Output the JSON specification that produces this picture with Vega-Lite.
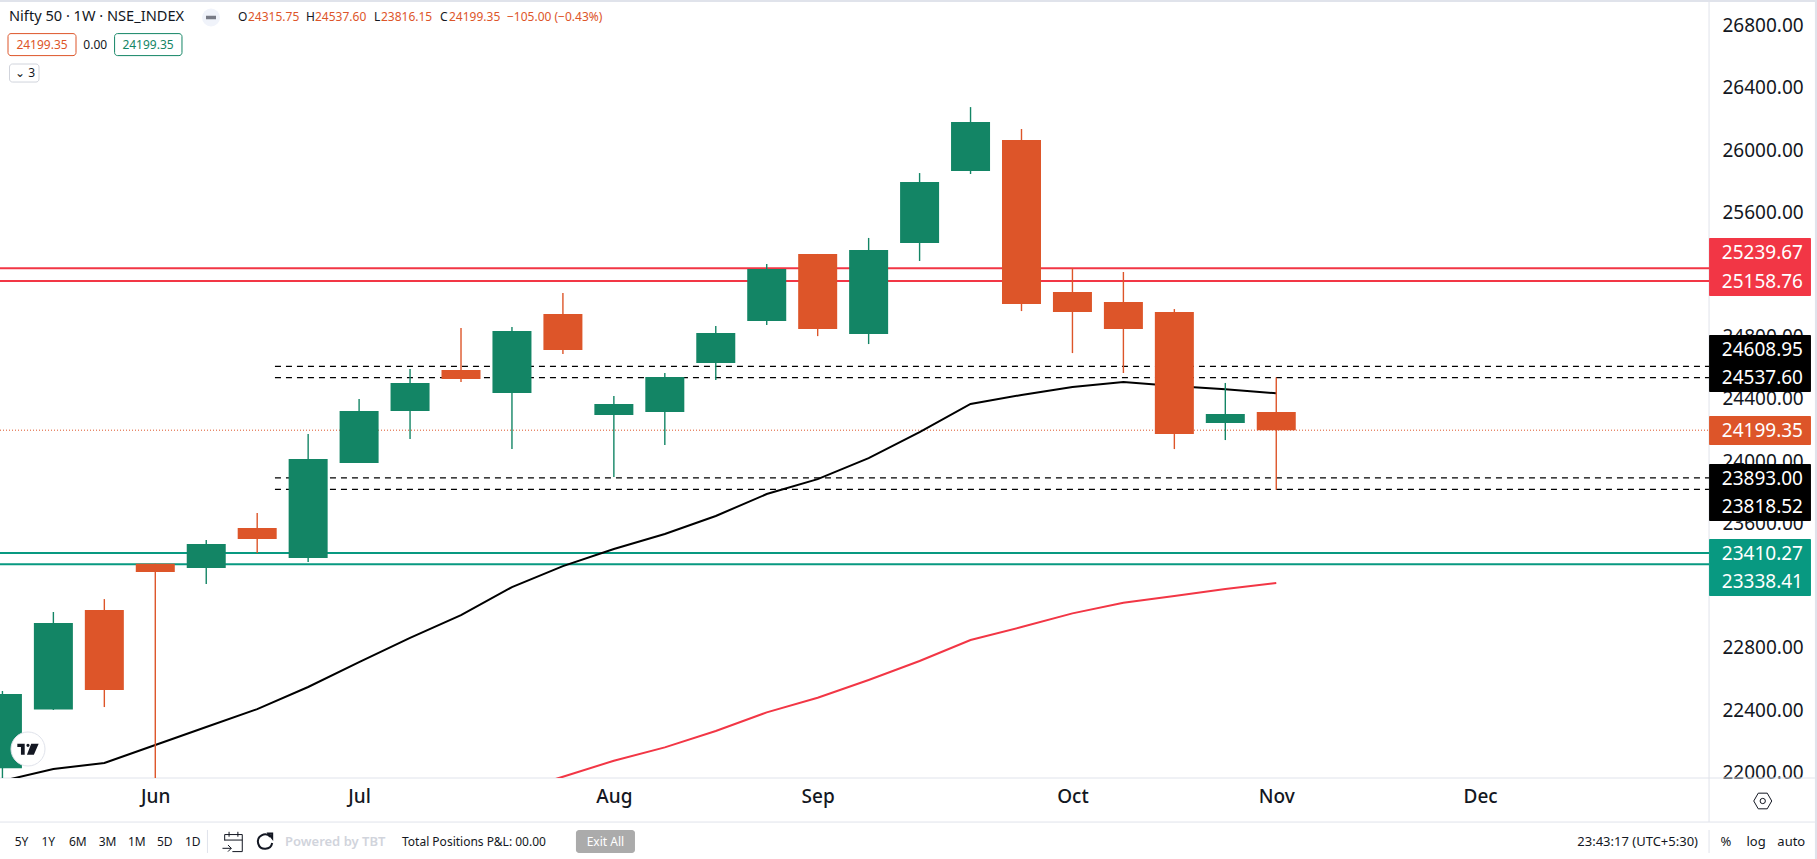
{"$schema":"https://vega.github.io/schema/vega-lite/v6.json","width":1709,"height":776,"autosize":"none","padding":{"left":0,"top":2,"right":108,"bottom":81},"background":"#ffffff","config":{"view":{"stroke":null},"font":"Noto Sans","text":{"font":"Noto Sans"}},
"datasets":{"candles":[
{"at":"2024-05-13","open":22027,"high":22523,"low":21821,"close":22504,"ma20":21945,"dir":"up"},
{"at":"2024-05-20","open":22404,"high":23031,"low":22401,"close":22960,"ma20":22022,"dir":"up"},
{"at":"2024-05-27","open":23044,"high":23114,"low":22420,"close":22530,"ma20":22060,"dir":"down"},
{"at":"2024-06-03","open":23341,"high":23341,"low":21281,"close":23288,"ma20":22176,"dir":"down"},
{"at":"2024-06-10","open":23314,"high":23494,"low":23211,"close":23468,"ma20":22292,"dir":"up"},
{"at":"2024-06-17","open":23571,"high":23667,"low":23410,"close":23500,"ma20":22407,"dir":"down"},
{"at":"2024-06-24","open":23378,"high":24175,"low":23352,"close":24014,"ma20":22549,"dir":"up"},
{"at":"2024-07-01","open":23989,"high":24400,"low":23989,"close":24323,"ma20":22709,"dir":"up"},
{"at":"2024-07-08","open":24323,"high":24592,"low":24143,"close":24503,"ma20":22864,"dir":"up"},
{"at":"2024-07-15","open":24586,"high":24856,"low":24509,"close":24528,"ma20":23011,"dir":"down"},
{"at":"2024-07-22","open":24438,"high":24863,"low":24078,"close":24837,"ma20":23191,"ma50":21874,"dir":"up"},
{"at":"2024-07-29","open":24946,"high":25081,"low":24689,"close":24715,"ma20":23326,"ma50":21972,"dir":"down"},
{"at":"2024-08-05","open":24297,"high":24419,"low":23898,"close":24368,"ma20":23436,"ma50":22075,"dir":"up"},
{"at":"2024-08-12","open":24316,"high":24567,"low":24104,"close":24541,"ma20":23532,"ma50":22161,"dir":"up"},
{"at":"2024-08-19","open":24631,"high":24869,"low":24522,"close":24824,"ma20":23648,"ma50":22266,"dir":"up"},
{"at":"2024-08-26","open":24901,"high":25268,"low":24875,"close":25235,"ma20":23789,"ma50":22386,"dir":"up"},
{"at":"2024-09-02","open":25332,"high":25332,"low":24804,"close":24850,"ma20":23885,"ma50":22480,"dir":"down"},
{"at":"2024-09-09","open":24818,"high":25435,"low":24753,"close":25358,"ma20":24020,"ma50":22594,"dir":"up"},
{"at":"2024-09-16","open":25403,"high":25852,"low":25287,"close":25794,"ma20":24187,"ma50":22716,"dir":"up"},
{"at":"2024-09-23","open":25865,"high":26276,"low":25846,"close":26180,"ma20":24368,"ma50":22851,"dir":"up"},
{"at":"2024-09-30","open":26064,"high":26135,"low":24965,"close":25010,"ma20":24426,"ma50":22934,"dir":"down"},
{"at":"2024-10-07","open":25088,"high":25242,"low":24695,"close":24959,"ma20":24477,"ma50":23022,"dir":"down"},
{"at":"2024-10-14","open":25023,"high":25216,"low":24567,"close":24850,"ma20":24509,"ma50":23090,"dir":"down"},
{"at":"2024-10-21","open":24959,"high":24978,"low":24078,"close":24175,"ma20":24483,"ma50":23133,"dir":"down"},
{"at":"2024-10-28","open":24246,"high":24503,"low":24136,"close":24304,"ma20":24462,"ma50":23178,"dir":"up"},
{"at":"2024-11-04","open":24315.75,"high":24537.6,"low":23816.15,"close":24199.35,"ma20":24437,"ma50":23217,"dir":"down"}
]},
"encoding":{
"x":{"field":"at","type":"temporal","title":null,"scale":{"type":"utc","nice":false,"padding":0,"domain":[{"year":2024,"month":5,"date":12,"hours":16,"utc":true},{"year":2025,"month":1,"date":2,"hours":10,"minutes":48,"utc":true}]},"axis":{"orient":"bottom","title":null,"format":"%b","ticks":false,"domain":false,"grid":false,"labelFont":"Noto Sans","labelFontSize":19,"labelFontWeight":500,"labelColor":"#131722","labelPadding":9,"labelOverlap":false,"labelFlush":false,"values":[{"year":2024,"month":6,"date":3,"utc":true},{"year":2024,"month":7,"date":1,"utc":true},{"year":2024,"month":8,"date":5,"utc":true},{"year":2024,"month":9,"date":2,"utc":true},{"year":2024,"month":10,"date":7,"utc":true},{"year":2024,"month":11,"date":4,"utc":true},{"year":2024,"month":12,"date":2,"utc":true}]}},
"y":{"field":"level","type":"quantitative","title":null,"scale":{"domain":[21964,26951.4],"nice":false,"zero":false},"axis":{"orient":"right","title":null,"format":".2f","ticks":false,"domain":false,"grid":false,"labelFont":"Noto Sans","labelFontSize":19,"labelColor":"#131722","labelPadding":13,"labelOverlap":false,"labelFlush":false,"values":[22000,22400,22800,23200,23600,24000,24400,24800,25200,25600,26000,26400,26800]}}},
"layer":[
{"data":{"values":[{"at":"2024-05-12T16:00:00Z","until":"2025-01-17T07:00:00Z","level":26964,"to":26951.4},{"at":"2025-01-17T00:00:00Z","until":"2025-01-17T07:00:00Z","level":26964,"to":21443}]},"mark":{"type":"rect","fill":"#E0E3EB"},"encoding":{"x2":{"field":"until"},"y2":{"field":"to"}}},
{"data":{"values":[{"at":"2024-05-12T16:00:00Z","until":"2025-01-17T00:00:00Z","level":21964},{"at":"2024-05-12T16:00:00Z","until":"2025-01-17T00:00:00Z","level":21681}]},"mark":{"type":"rule","stroke":"#E0E3EB","strokeWidth":1,"clip":false},"encoding":{"x2":{"field":"until"}}},
{"data":{"values":[{"at":"2025-01-02T11:00:00Z","level":26951.4,"to":21681},{"at":"2025-01-02T11:00:00Z","level":21630,"to":21482},{"at":"2024-06-10T04:00:00Z","level":21630,"to":21482}]},"mark":{"type":"rule","stroke":"#E0E3EB","strokeWidth":1,"clip":false},"encoding":{"y2":{"field":"to"}}},
{"data":{"values":[{"at":"2024-05-12T16:00:00Z","until":"2025-01-02T10:48:00Z","level":25239.67},{"at":"2024-05-12T16:00:00Z","until":"2025-01-02T10:48:00Z","level":25158.76}]},"mark":{"type":"rule","stroke":"#F23645","strokeWidth":2},"encoding":{"x2":{"field":"until"}}},
{"data":{"values":[{"at":"2024-05-12T16:00:00Z","until":"2025-01-02T10:48:00Z","level":23410.27},{"at":"2024-05-12T16:00:00Z","until":"2025-01-02T10:48:00Z","level":23338.41}]},"mark":{"type":"rule","stroke":"#089981","strokeWidth":2},"encoding":{"x2":{"field":"until"}}},
{"data":{"values":[{"at":"2024-06-19T10:34:00Z","until":"2025-01-02T10:48:00Z","level":24608.95},{"at":"2024-06-19T10:34:00Z","until":"2025-01-02T10:48:00Z","level":24537.6},{"at":"2024-06-19T10:34:00Z","until":"2025-01-02T10:48:00Z","level":23893},{"at":"2024-06-19T10:34:00Z","until":"2025-01-02T10:48:00Z","level":23818.52}]},"mark":{"type":"rule","stroke":"#000000","strokeWidth":1.2,"strokeDash":[6,5]},"encoding":{"x2":{"field":"until"}}},
{"data":{"values":[{"at":"2024-05-12T16:00:00Z","until":"2025-01-02T10:48:00Z","level":24199.35}]},"mark":{"type":"rule","stroke":"#DD5529","strokeWidth":1,"strokeDash":[1,2]},"encoding":{"x2":{"field":"until"}}},
{"data":{"name":"candles"},"mark":{"type":"line","stroke":"#000000","strokeWidth":2,"clip":true},"encoding":{"y":{"field":"ma20","type":"quantitative","title":null}}},
{"data":{"name":"candles"},"mark":{"type":"line","stroke":"#F23645","strokeWidth":2,"clip":true},"encoding":{"y":{"field":"ma50","type":"quantitative","title":null}}},
{"data":{"name":"candles"},"mark":{"type":"rule","strokeWidth":1.4,"clip":true},"encoding":{"y":{"field":"low","type":"quantitative","title":null},"y2":{"field":"high"},"color":{"field":"dir","type":"nominal","legend":null,"scale":{"domain":["up","down"],"range":["#138565","#DD5529"]}}}},
{"data":{"name":"candles"},"mark":{"type":"bar","width":39,"clip":true},"encoding":{"y":{"field":"open","type":"quantitative","title":null},"y2":{"field":"close"},"color":{"field":"dir","type":"nominal","legend":null,"scale":{"domain":["up","down"],"range":["#138565","#DD5529"]}}}},
{"data":{"values":[{"at":"2025-01-02T11:00:00Z","until":"2025-01-16T11:00:00Z","level":25434.6,"to":25061.8,"kind":"res"},{"at":"2025-01-02T11:00:00Z","until":"2025-01-16T11:00:00Z","level":24811.2,"to":24444.9,"kind":"mark"},{"at":"2025-01-02T11:00:00Z","until":"2025-01-16T11:00:00Z","level":24290.6,"to":24104.2,"kind":"last"},{"at":"2025-01-02T11:00:00Z","until":"2025-01-16T11:00:00Z","level":23982.1,"to":23615.8,"kind":"mark"},{"at":"2025-01-02T11:00:00Z","until":"2025-01-16T11:00:00Z","level":23500.1,"to":23133.8,"kind":"sup"}]},"mark":{"type":"rect","cornerRadius":1,"clip":false},"encoding":{"x2":{"field":"until"},"y2":{"field":"to"},"fill":{"field":"kind","type":"nominal","legend":null,"scale":{"domain":["res","mark","last","sup"],"range":["#F23645","#000000","#DD5529","#089981"]}}}},
{"data":{"values":[{"label":"25239.67","at":"2025-01-04T05:00:00Z","level":25338.2},{"label":"25158.76","at":"2025-01-04T05:00:00Z","level":25151.8},{"label":"24608.95","at":"2025-01-04T05:00:00Z","level":24714.8},{"label":"24537.60","at":"2025-01-04T05:00:00Z","level":24534.8},{"label":"24199.35","at":"2025-01-04T05:00:00Z","level":24194.2},{"label":"23893.00","at":"2025-01-04T05:00:00Z","level":23885.7},{"label":"23818.52","at":"2025-01-04T05:00:00Z","level":23705.8},{"label":"23410.27","at":"2025-01-04T05:00:00Z","level":23403.7},{"label":"23338.41","at":"2025-01-04T05:00:00Z","level":23223.7}]},"mark":{"type":"text","align":"left","baseline":"middle","fontSize":19,"fill":"#ffffff","font":"Noto Sans"},"encoding":{"text":{"field":"label"}}},
{"data":{"values":[{"label":"Nifty 50 · 1W · NSE_INDEX","at":"2024-05-13T21:42:00Z","level":26851.8}]},"mark":{"type":"text","align":"left","baseline":"middle","fontSize":14.6,"fill":"#131722"},"encoding":{"text":{"field":"label"}}},
{"data":{"values":[{"label":"O","at":"2024-06-14T08:40:00Z","level":26851.8},{"label":"H","at":"2024-06-23T16:54:00Z","level":26851.8},{"label":"L","at":"2024-07-03T01:00:00Z","level":26851.8},{"label":"C","at":"2024-07-12T02:42:00Z","level":26851.8},{"label":"5Y","at":"2024-05-14T16:30:00Z","level":21554.6},{"label":"1Y","at":"2024-05-18T08:48:00Z","level":21554.6},{"label":"6M","at":"2024-05-22T03:30:00Z","level":21554.6},{"label":"3M","at":"2024-05-26T05:24:00Z","level":21554.6},{"label":"1M","at":"2024-05-30T06:00:00Z","level":21554.6},{"label":"5D","at":"2024-06-03T05:36:00Z","level":21554.6},{"label":"1D","at":"2024-06-07T02:00:00Z","level":21554.6},{"label":"Total Positions P&L: 00.00","at":"2024-07-06T21:24:00Z","level":21554.6}]},"mark":{"type":"text","align":"left","baseline":"middle","fontSize":12,"fill":"#131722"},"encoding":{"text":{"field":"label"}}},
{"data":{"values":[{"label":"24315.75","at":"2024-06-15T17:40:00Z","level":26851.8},{"label":"24537.60","at":"2024-06-24T22:36:00Z","level":26851.8},{"label":"23816.15","at":"2024-07-04T00:00:00Z","level":26851.8},{"label":"24199.35","at":"2024-07-13T08:24:00Z","level":26851.8},{"label":"−105.00 (−0.43%)","at":"2024-07-21T07:36:00Z","level":26851.8}]},"mark":{"type":"text","align":"left","baseline":"middle","fontSize":12,"fill":"#DD5529"},"encoding":{"text":{"field":"label"}}},
{"data":{"values":[{"at":"2024-05-13T18:24:00Z","until":"2024-05-23T02:36:00Z","level":26748.3,"to":26606.9}]},"mark":{"type":"rect","fill":"#ffffff","stroke":"#DD5529","strokeWidth":1,"cornerRadius":3},"encoding":{"x2":{"field":"until"},"y2":{"field":"to"}}},
{"data":{"values":[{"at":"2024-05-28T09:48:00Z","until":"2024-06-06T16:00:00Z","level":26748.3,"to":26606.9}]},"mark":{"type":"rect","fill":"#ffffff","stroke":"#138565","strokeWidth":1,"cornerRadius":3},"encoding":{"x2":{"field":"until"},"y2":{"field":"to"}}},
{"data":{"values":[{"at":"2024-05-13T23:18:00Z","until":"2024-05-18T00:36:00Z","level":26552.9,"to":26437}]},"mark":{"type":"rect","fill":"#ffffff","stroke":"#D1D4DC","strokeWidth":1,"cornerRadius":3},"encoding":{"x2":{"field":"until"},"y2":{"field":"to"}}},
{"data":{"values":[{"label":"24199.35","at":"2024-05-18T10:30:00Z","level":26677}]},"mark":{"type":"text","align":"center","baseline":"middle","fontSize":12,"fill":"#DD5529"},"encoding":{"text":{"field":"label"}}},
{"data":{"values":[{"label":"0.00","at":"2024-05-25T18:00:00Z","level":26677},{"label":"⌄ 3","at":"2024-05-16T02:24:00Z","level":26495}]},"mark":{"type":"text","align":"center","baseline":"middle","fontSize":12,"fill":"#131722"},"encoding":{"text":{"field":"label"}}},
{"data":{"values":[{"label":"24199.35","at":"2024-06-02T00:00:00Z","level":26677}]},"mark":{"type":"text","align":"center","baseline":"middle","fontSize":12,"fill":"#138565"},"encoding":{"text":{"field":"label"}}},
{"data":{"values":[{"at":"2024-06-10T15:42:00Z","level":26851.8}]},"mark":{"type":"point","filled":true,"fill":"#F0F3FA","size":324,"shape":"circle","opacity":1},"encoding":{}},
{"data":{"values":[{"at":"2024-06-10T15:42:00Z","level":26851.8}]},"mark":{"type":"point","filled":true,"fill":"#787B86","size":100,"shape":"M-1,-.35H1V.35H-1Z","opacity":1},"encoding":{}},
{"data":{"values":[{"at":"2024-05-16T12:18:00Z","level":22150.4}]},"mark":{"type":"point","filled":true,"fill":"#ffffff","stroke":"#E0E3EB","strokeWidth":1,"size":1156,"shape":"circle","opacity":1},"encoding":{}},
{"data":{"values":[{"at":"2024-05-16T12:18:00Z","level":22150.4}]},"mark":{"type":"point","filled":true,"fill":"#131722","size":455,"shape":"M-1,-.5H-.31V.53H-.66V-.19H-1ZM-.15,-.34a.15,.15 0 1,0 .3,0a.15,.15 0 1,0 -.3,0ZM.3,-.5H1L.55,.53H-.1Z","opacity":1},"encoding":{}},
{"data":{"values":[{"at":"2025-01-09T20:00:00Z","level":21816.2}]},"mark":{"type":"point","filled":false,"stroke":"#131722","strokeWidth":1,"size":324,"shape":"M-1,0L-.5,-.87H.5L1,0L.5,.87H-.5Z","opacity":1},"encoding":{}},
{"data":{"values":[{"at":"2025-01-09T20:00:00Z","level":21816.2}]},"mark":{"type":"point","filled":false,"stroke":"#131722","strokeWidth":1,"size":28,"shape":"circle","opacity":1},"encoding":{}},
{"data":{"values":[{"at":"2024-06-13T17:48:00Z","level":21554.6}]},"mark":{"type":"point","filled":false,"stroke":"#131722","strokeWidth":1,"size":484,"shape":"M-.8,-.1V-.65H.8V.9H-.1M-.8,-.15H.8M-.4,-.9V-.45M.4,-.9V-.45M-1,.6H-.2M-.5,.3L-.2,.6L-.5,.9","opacity":1},"encoding":{}},
{"data":{"values":[{"at":"2024-06-18T01:42:00Z","level":21554.6}]},"mark":{"type":"point","filled":false,"stroke":"#131722","strokeWidth":2,"size":324,"shape":"M.6,-.55A.8,.8 0 1,0 .8,.15M.4,-.9H.8V-.4Z","opacity":1},"encoding":{}},
{"data":{"values":[{"label":"Powered by TBT","at":"2024-06-20T19:36:00Z","level":21554.6}]},"mark":{"type":"text","align":"left","baseline":"middle","fontSize":13,"fontWeight":600,"fill":"#D1D4DC"},"encoding":{"text":{"field":"label"}}},
{"data":{"values":[{"at":"2024-07-30T19:00:00Z","until":"2024-08-07T21:36:00Z","level":21630,"to":21482}]},"mark":{"type":"rect","fill":"#ABABAB","cornerRadius":3},"encoding":{"x2":{"field":"until"},"y2":{"field":"to"}}},
{"data":{"values":[{"label":"Exit All","at":"2024-08-03T20:00:00Z","level":21554.6}]},"mark":{"type":"text","align":"center","baseline":"middle","fontSize":12,"fill":"#ffffff"},"encoding":{"text":{"field":"label"}}},
{"data":{"values":[{"label":"23:43:17 (UTC+5:30)","at":"2024-12-31T22:34:00Z","level":21554.6}]},"mark":{"type":"text","align":"right","baseline":"middle","fontSize":13,"fill":"#131722"},"encoding":{"text":{"field":"label"}}},
{"data":{"values":[{"label":"%","at":"2025-01-04T01:00:00Z","level":21554.6},{"label":"log","at":"2025-01-07T14:30:00Z","level":21554.6},{"label":"auto","at":"2025-01-11T20:10:00Z","level":21554.6}]},"mark":{"type":"text","align":"left","baseline":"middle","fontSize":13,"fill":"#131722"},"encoding":{"text":{"field":"label"}}}
]}
